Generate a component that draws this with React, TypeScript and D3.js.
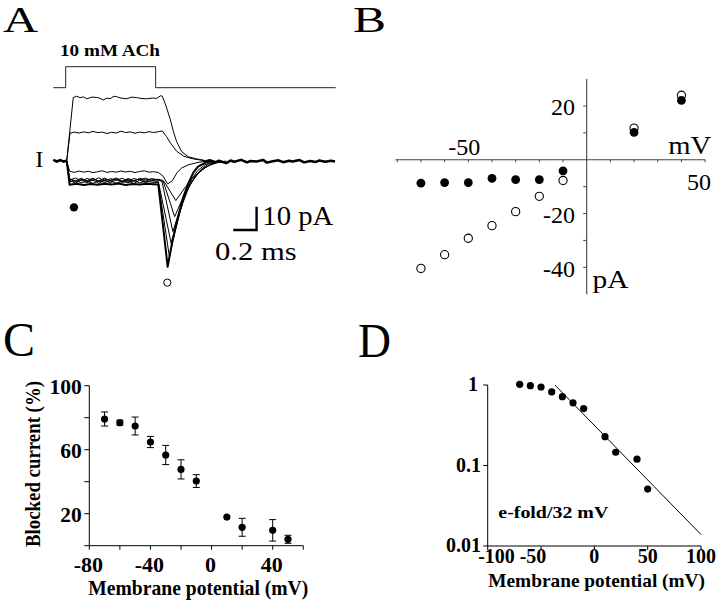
import React from "react";
import * as d3 from "d3";

const FONT = "Liberation Serif, Times New Roman, serif";
type P = [number, number];

// ---------- Panel A : current traces (t in ms, I in pA) ----------
const achPulse: P[] = [[0, 0], [0.106, 0], [0.106, 1], [0.877, 1], [0.877, 0], [2.42, 0]];
const preOnset: P[] = [[0, 0.5], [0.03, -0.2], [0.06, 0.4], [0.09, -0.3], [0.115, 0.2]];
const baselineTail: P[] = [
  [1.3, -0.3], [1.34, 0.3], [1.39, -0.5], [1.42, 0.1], [1.48, -0.9], [1.52, 0.2], [1.55, -0.3],
  [1.61, 0.5], [1.66, -0.6], [1.69, 0.0], [1.74, -0.2], [1.8, 0.4], [1.83, -0.7], [1.88, -0.1],
  [1.93, 0.3], [1.97, -0.5], [2.02, 0.1], [2.05, -0.2], [2.11, 0.4], [2.15, -0.6], [2.2, 0.0],
  [2.25, -0.4], [2.28, 0.2], [2.33, -0.3], [2.38, 0.1], [2.414, -0.2],
];
const traceP40: P[] = [
  [0.115, 0], [0.171, 27.2], [0.2, 27.8], [0.229, 27.2], [0.26, 27.5], [0.286, 26.7], [0.33, 27.4],
  [0.372, 27.3], [0.4, 26.9], [0.428, 26.2], [0.46, 27.0], [0.486, 26.7], [0.52, 27.8], [0.543, 27.6],
  [0.58, 27.0], [0.629, 26.7], [0.67, 27.4], [0.715, 27.2], [0.76, 26.8], [0.8, 26.7], [0.85, 27.0],
  [0.886, 26.9], [0.92, 28.0], [0.934, 27.8], [0.96, 24.5], [1.0, 18.3], [1.03, 12.5], [1.057, 8.3],
  [1.1, 4.0], [1.157, 1.8], [1.229, 0.9], [1.3, 0.2],
];
const traceP20: P[] = [
  [0.115, 0], [0.143, 11.9], [0.18, 12.4], [0.22, 12.0], [0.26, 12.5], [0.3, 12.1], [0.34, 12.7],
  [0.38, 12.2], [0.42, 12.4], [0.46, 11.8], [0.5, 12.3], [0.54, 12.0], [0.58, 12.8], [0.62, 12.2],
  [0.66, 12.5], [0.7, 11.9], [0.74, 12.4], [0.78, 12.1], [0.82, 12.6], [0.86, 12.2], [0.9, 12.6],
  [0.934, 12.9], [0.97, 10.5], [1.0, 8.0], [1.057, 4.2], [1.12, 2.0], [1.2, 0.9], [1.3, 0.1],
];
const traceM10: P[] = [
  [0.115, 0], [0.14, -4.4], [0.18, -4.9], [0.22, -4.3], [0.26, -4.8], [0.3, -4.4], [0.34, -5.0],
  [0.38, -4.6], [0.42, -4.2], [0.46, -4.9], [0.5, -4.5], [0.54, -4.8], [0.58, -4.3], [0.62, -4.7],
  [0.66, -4.4], [0.7, -5.0], [0.74, -4.5], [0.78, -4.2], [0.82, -4.8], [0.86, -4.6], [0.9, -4.9],
  [0.94, -6.5], [0.98, -9.8], [1.02, -8.5], [1.06, -5.0], [1.1, -3.0], [1.16, -1.6], [1.24, -0.6], [1.32, 0],
];
const traceM70: P[] = [
  [0.115, 0], [0.14, -10.2], [0.2, -9.8], [0.26, -10.3], [0.32, -9.9], [0.38, -10.2], [0.44, -9.8],
  [0.5, -10.1], [0.56, -9.7], [0.62, -10.3], [0.68, -9.9], [0.74, -10.1], [0.8, -9.8], [0.86, -10.0],
  [0.9, -10.1], [0.98, -45.4], [1.02, -34.5], [1.07, -23.9], [1.11, -16], [1.157, -9.6], [1.2, -5.0],
  [1.24, -2.4], [1.3, -0.8], [1.36, 0],
];
const traceM60: P[] = [
  [0.115, 0], [0.14, -9.0], [0.19, -8.3], [0.24, -9.4], [0.29, -8.6], [0.34, -9.6], [0.39, -8.4],
  [0.44, -9.2], [0.49, -8.5], [0.54, -9.5], [0.59, -8.7], [0.64, -9.3], [0.69, -8.4], [0.74, -9.4],
  [0.79, -8.6], [0.84, -9.1], [0.9, -9.3], [0.995, -41.1], [1.04, -31], [1.09, -21], [1.14, -13],
  [1.19, -7.5], [1.24, -4.0], [1.3, -1.6], [1.38, -0.3],
];
const traceM50: P[] = [
  [0.115, 0], [0.14, -8.4], [0.19, -9.5], [0.24, -8.2], [0.29, -9.3], [0.34, -8.1], [0.39, -9.6],
  [0.44, -8.3], [0.49, -9.4], [0.54, -8.0], [0.59, -9.2], [0.64, -8.5], [0.69, -9.7], [0.74, -8.2],
  [0.79, -9.3], [0.84, -8.4], [0.9, -8.8], [1.01, -35.3], [1.06, -26], [1.11, -18], [1.16, -11.5],
  [1.21, -7], [1.27, -3.5], [1.33, -1.3], [1.4, -0.2],
];
const traceM40: P[] = [
  [0.115, 0], [0.14, -7.6], [0.19, -8.6], [0.24, -7.4], [0.29, -8.8], [0.34, -7.7], [0.39, -8.5],
  [0.44, -7.3], [0.49, -8.7], [0.54, -7.6], [0.59, -8.9], [0.64, -7.5], [0.69, -8.4], [0.74, -7.8],
  [0.79, -8.8], [0.84, -7.6], [0.9, -8.0], [0.93, -8.6], [1.025, -30.3], [1.08, -21.5], [1.13, -14.5],
  [1.18, -9.5], [1.24, -5.5], [1.3, -2.8], [1.37, -1.0], [1.44, 0],
];
const traceM30: P[] = [
  [0.115, 0], [0.14, -8.2], [0.19, -7.3], [0.24, -8.5], [0.29, -7.5], [0.34, -8.4], [0.39, -7.2],
  [0.44, -8.6], [0.49, -7.6], [0.54, -8.3], [0.59, -7.4], [0.64, -8.7], [0.69, -7.5], [0.74, -8.2],
  [0.79, -7.3], [0.84, -8.5], [0.9, -7.8], [0.94, -8.4], [1.04, -23.9], [1.1, -17], [1.16, -11],
  [1.22, -6.5], [1.28, -3.5], [1.35, -1.5], [1.43, -0.3],
];
const traceM20: P[] = [
  [0.115, 0], [0.14, -7.8], [0.19, -8.9], [0.24, -7.9], [0.29, -8.4], [0.34, -7.4], [0.39, -8.9],
  [0.44, -7.8], [0.49, -8.2], [0.54, -7.3], [0.59, -8.6], [0.64, -7.9], [0.69, -8.8], [0.74, -7.4],
  [0.79, -8.1], [0.84, -7.7], [0.9, -8.3], [0.95, -8.8], [1.05, -17.0], [1.12, -12], [1.19, -7.5],
  [1.26, -4.2], [1.33, -2.0], [1.4, -0.8], [1.48, 0],
];
const thinTraces: P[][] = [traceP40, traceP20, traceM10, traceM60, traceM50, traceM40, traceM30, traceM20];
const steadyMarker: P = [0.177, -19.9];
const tailMarker: P = [0.977, -52.2];
const scaleBarOrigin: P = [1.742, -29.6];
const scaleBarMs = 0.2;
const scaleBarPA = 10;

// ---------- Panel B : I-V ----------
const ivVoltages = [-70, -60, -50, -40, -30, -20, -10, 20, 40];
const ivSteady = [-8.7, -8.5, -8.5, -6.9, -7.4, -7.4, -4.1, 10.2, 22.1];
const ivTail = [-40.4, -35.3, -29.2, -24.5, -19.3, -13.6, -7.7, 11.8, 24.0];
const ivXTicks = [-80, -70, -60, -50, -40, -30, -20, -10, 10, 20, 30, 40, 50];
const ivYTicks = [20, 10, -10, -20, -30, -40];
const ivYLabels = [20, -20, -40];

// ---------- Panel C : blocked current ----------
const blkVoltages = [-70, -60, -50, -40, -30, -20, -10, 10, 20, 40, 50];
const blkMean = [79.2, 76.9, 74.8, 64.8, 56.7, 47.7, 40.4, 17.9, 11.5, 9.6, 4.0];
const blkErr = [4.4, 1.5, 5.6, 3.5, 6.0, 6.0, 4.0, 0, 5.6, 6.7, 2.5];
const blkXTicks = [-80, -60, -40, -20, 0, 20, 40, 60];
const blkXLabels = [-80, -40, 0, 40];
const blkYTicks = [0, 20, 40, 60, 80, 100];
const blkYLabels = [100, 60, 20];

// ---------- Panel D : log plot ----------
const logVoltages = [-70, -60, -50, -40, -30, -20, -10, 10, 20, 40, 50];
const logRatio = [1.02, 0.98, 0.944, 0.82, 0.716, 0.6, 0.51, 0.228, 0.146, 0.12, 0.051];
const fitLine: P[] = [[-37, 1], [100, 0.0139]];
const logXTicks = [-100, -50, 0, 50, 100];
const logYTicks = [1, 0.1, 0.01];
const logYLabels = ["1", "0.1", "0.01"];

export default function App() {
  // Panel A scales
  const xA = d3.scaleLinear().domain([0, 2.414]).range([53.3, 335]);
  const yA = d3.scaleLinear().domain([0, 10]).range([161, 137.7]);
  const yPulse = d3.scaleLinear().domain([0, 1]).range([87.7, 66.7]);
  const lineA = d3.line<P>().x((d) => xA(d[0])).y((d) => yA(d[1]));
  const linePulse = d3.line<P>().x((d) => xA(d[0])).y((d) => yPulse(d[1]));

  // Panel B
  const xB = d3.scaleLinear().domain([-50, 0]).range([468.3, 586.7]);
  const yB = d3.scaleLinear().domain([20, -40]).range([106, 267.3]);

  // Panel C
  const xC = d3.scaleLinear().domain([-80, 40]).range([89.3, 272.7]);
  const yC = d3.scaleLinear().domain([0, 100]).range([545.7, 385.7]);

  // Panel D
  const xD = d3.scaleLinear().domain([-100, 100]).range([487.7, 701]);
  const yD = d3.scaleLog().domain([0.01, 1]).range([546, 385]);
  const lineD = d3.line<P>().x((d) => xD(d[0])).y((d) => yD(d[1]));

  const txt = { style: { fontFamily: FONT }, fill: "#000" } as const;

  return (
    <div style={{ position: "absolute", left: 0, top: 0 }}>
      <svg width={720} height={602} viewBox="0 0 720 602" style={{ display: "block", background: "#fff" }}>
        <rect x={0} y={0} width={720} height={602} fill="#fff" />

        {/* ============ Panel A ============ */}
        <text x={3} y={31.7} fontSize={35} textLength={35} lengthAdjust="spacingAndGlyphs" {...txt}>A</text>
        <text x={60} y={55.7} fontSize={17.5} fontWeight="bold" textLength={100} lengthAdjust="spacingAndGlyphs" {...txt}>10 mM ACh</text>
        <path d={linePulse(achPulse) || ""} fill="none" stroke="#222" strokeWidth={1} />
        <text x={35.2} y={166.7} fontSize={23} textLength={8.2} lengthAdjust="spacingAndGlyphs" {...txt}>I</text>
        <path d={lineA(preOnset) || ""} fill="none" stroke="#000" strokeWidth={2.6} />
        <path d={lineA(baselineTail) || ""} fill="none" stroke="#000" strokeWidth={2.5} strokeLinejoin="round" />
        {thinTraces.map((tr, i) => (
          <path key={i} d={lineA(tr) || ""} fill="none" stroke="#000" strokeWidth={1} strokeLinejoin="round" />
        ))}
        <path d={lineA(traceM70) || ""} fill="none" stroke="#000" strokeWidth={2} strokeLinejoin="round" />
        <circle cx={xA(steadyMarker[0])} cy={yA(steadyMarker[1])} r={4.2} fill="#000" />
        <circle cx={xA(tailMarker[0])} cy={yA(tailMarker[1])} r={3.6} fill="#fff" stroke="#000" strokeWidth={1} />
        {/* scale bar */}
        <path
          d={`M${xA(scaleBarOrigin[0] - scaleBarMs)},${yA(scaleBarOrigin[1])}H${xA(scaleBarOrigin[0])}V${yA(scaleBarOrigin[1] + scaleBarPA)}`}
          fill="none" stroke="#000" strokeWidth={2.4}
        />
        <text x={262.3} y={225} fontSize={26.5} textLength={71} lengthAdjust="spacingAndGlyphs" {...txt}>10 pA</text>
        <text x={215} y={260} fontSize={26} textLength={81.7} lengthAdjust="spacingAndGlyphs" {...txt}>0.2 ms</text>

        {/* ============ Panel B ============ */}
        <text x={353} y={31.7} fontSize={35} textLength={33} lengthAdjust="spacingAndGlyphs" {...txt}>B</text>
        <line x1={xB(-80.8)} x2={xB(50)} y1={yB(0)} y2={yB(0)} stroke="#444" strokeWidth={1.1} />
        <line x1={xB(0)} x2={xB(0)} y1={yB(30)} y2={yB(-50)} stroke="#444" strokeWidth={1.1} />
        {ivXTicks.map((v) => (
          <line key={v} x1={xB(v)} x2={xB(v)} y1={yB(0)} y2={yB(0) + 2.5} stroke="#444" strokeWidth={1} />
        ))}
        {ivYTicks.map((v) => (
          <line key={v} x1={xB(0) - 3.5} x2={xB(0)} y1={yB(v)} y2={yB(v)} stroke="#444" strokeWidth={1} />
        ))}
        {ivYLabels.map((v) => (
          <text key={v} x={575} y={yB(v) + 9.2} fontSize={24} textAnchor="end" {...txt}>{v}</text>
        ))}
        <text x={xB(-50) - 4} y={155} fontSize={24} textAnchor="middle" {...txt}>-50</text>
        <text x={xB(50) - 6} y={190} fontSize={24} textAnchor="middle" {...txt}>50</text>
        <text x={668.3} y={154} fontSize={26} textLength={43} lengthAdjust="spacingAndGlyphs" {...txt}>mV</text>
        <text x={592.5} y={288} fontSize={25} textLength={36} lengthAdjust="spacingAndGlyphs" {...txt}>pA</text>
        {ivVoltages.map((v, i) => (
          <circle key={"o" + v} cx={xB(v)} cy={yB(ivTail[i])} r={4.1} fill="#fff" stroke="#000" strokeWidth={1.1} />
        ))}
        {ivVoltages.map((v, i) => (
          <circle key={"f" + v} cx={xB(v)} cy={yB(ivSteady[i])} r={4.4} fill="#000" />
        ))}

        {/* ============ Panel C ============ */}
        <text x={3} y={356} fontSize={48} textLength={32} lengthAdjust="spacingAndGlyphs" {...txt}>C</text>
        <line x1={xC(-80)} x2={xC(-80)} y1={yC(0)} y2={yC(100)} stroke="#000" strokeWidth={1} />
        <line x1={xC(-80)} x2={xC(60)} y1={yC(0)} y2={yC(0)} stroke="#000" strokeWidth={1} />
        {blkYTicks.map((v) => (
          <line key={v} x1={xC(-80) - 5} x2={xC(-80)} y1={yC(v)} y2={yC(v)} stroke="#000" strokeWidth={1} />
        ))}
        {blkXTicks.map((v) => (
          <line key={v} x1={xC(v)} x2={xC(v)} y1={yC(0)} y2={yC(0) + 4} stroke="#000" strokeWidth={1} />
        ))}
        {blkYLabels.map((v) => (
          <text key={v} x={81.7} y={yC(v) + 8.6} fontSize={21.5} fontWeight="bold" textAnchor="end" {...txt}>{v}</text>
        ))}
        {blkXLabels.map((v) => (
          <text key={v} x={xC(v) - 1} y={571.7} fontSize={22} fontWeight="bold" textAnchor="middle" {...txt}>{v}</text>
        ))}
        <text x={88.3} y={595} fontSize={21} fontWeight="bold" textLength={220} lengthAdjust="spacingAndGlyphs" {...txt}>Membrane  potential (mV)</text>
        <text transform="translate(40,464) rotate(-90)" fontSize={20} fontWeight="bold" textAnchor="middle" textLength={166} lengthAdjust="spacingAndGlyphs" {...txt}>Blocked current (%)</text>
        {blkVoltages.map((v, i) =>
          blkErr[i] > 0 ? (
            <g key={"e" + v} stroke="#000" strokeWidth={1}>
              <line x1={xC(v)} x2={xC(v)} y1={yC(blkMean[i] - blkErr[i])} y2={yC(blkMean[i] + blkErr[i])} />
              <line x1={xC(v) - 3.5} x2={xC(v) + 3.5} y1={yC(blkMean[i] - blkErr[i])} y2={yC(blkMean[i] - blkErr[i])} />
              <line x1={xC(v) - 3.5} x2={xC(v) + 3.5} y1={yC(blkMean[i] + blkErr[i])} y2={yC(blkMean[i] + blkErr[i])} />
            </g>
          ) : null
        )}
        {blkVoltages.map((v, i) => (
          <circle key={v} cx={xC(v)} cy={yC(blkMean[i])} r={3.6} fill="#000" />
        ))}

        {/* ============ Panel D ============ */}
        <text x={358} y={356.7} fontSize={48} textLength={33} lengthAdjust="spacingAndGlyphs" {...txt}>D</text>
        <line x1={xD(-100)} x2={xD(-100)} y1={yD(0.01)} y2={yD(1)} stroke="#000" strokeWidth={1} />
        <line x1={xD(-100)} x2={xD(100)} y1={yD(0.01)} y2={yD(0.01)} stroke="#000" strokeWidth={1} />
        {logYTicks.map((v) => (
          <line key={v} x1={xD(-100) - 4.5} x2={xD(-100)} y1={yD(v)} y2={yD(v)} stroke="#000" strokeWidth={1} />
        ))}
        {logXTicks.map((v) => (
          <line key={v} x1={xD(v)} x2={xD(v)} y1={yD(0.01)} y2={yD(0.01) + 4} stroke="#000" strokeWidth={1} />
        ))}
        {logYTicks.map((v, i) => (
          <text key={v} x={i === 0 ? 478 : 481} y={yD(v) + 6.2} fontSize={20} fontWeight="bold" textAnchor="end" {...txt}>{logYLabels[i]}</text>
        ))}
        {logXTicks.map((v) => (
          <text key={v} x={v === -100 ? xD(v) - 9.5 : v === -50 ? xD(v) - 8 : xD(v)} y={563.3} fontSize={20}
            fontWeight="bold" textAnchor={v === -100 ? "start" : "middle"} {...txt}>{v}</text>
        ))}
        <text x={488.3} y={586.7} fontSize={19.5} fontWeight="bold" textLength={216.7} lengthAdjust="spacingAndGlyphs" {...txt}>Membrane  potential (mV)</text>
        <text x={498.3} y={518.3} fontSize={17} fontWeight="bold" textLength={110} lengthAdjust="spacingAndGlyphs" {...txt}>e-fold/32 mV</text>
        <path d={lineD(fitLine) || ""} fill="none" stroke="#000" strokeWidth={1} />
        {logVoltages.map((v, i) => (
          <circle key={v} cx={xD(v)} cy={yD(logRatio[i])} r={3.6} fill="#000" />
        ))}
      </svg>
    </div>
  );
}
